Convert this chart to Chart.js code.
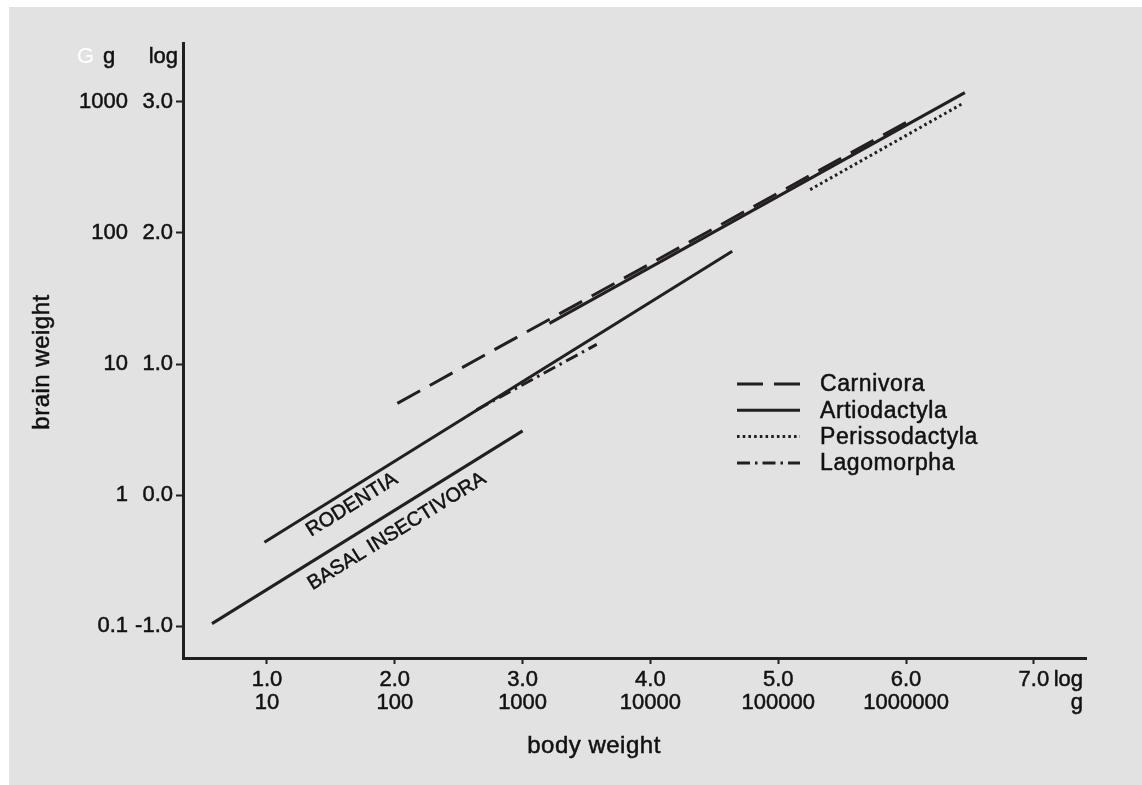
<!DOCTYPE html>
<html>
<head>
<meta charset="utf-8">
<title>Brain weight vs body weight</title>
<script src="https://cdn.jsdelivr.net/npm/chart.js@4.4.0/dist/chart.umd.min.js"></script>
<style>
  html, body { margin: 0; padding: 0; background: #ffffff; }
  #wrap { position: absolute; left: 9px; top: 7px; width: 1133px; height: 778px; background: #e2e2e2; }
  canvas { display: block; }
</style>
</head>
<body>
<div id="wrap"><canvas id="chart" width="1133" height="778"></canvas></div>
<script>
// Axis ticks: log10 values and the matching gram values
const yLogTicks = [-1, 0, 1, 2, 3];
const yGramLabels = ['0.1', '1', '10', '100', '1000'];
const xLogTicks = [1, 2, 3, 4, 5, 6, 7];
const xGramLabels = ['10', '100', '1000', '10000', '100000', '1000000', ''];

// Regression lines: log10 body weight (x) against log10 brain weight (y)
const carnivoraX = [2.02, 6.07];
const carnivoraY = [0.70, 2.88];
const artiodactylaX = [3.21, 6.46];
const artiodactylaY = [1.31, 3.07];
const perissodactylaX = [5.25, 6.45];
const perissodactylaY = [2.33, 2.99];
const lagomorphaX = [2.64, 3.58];
const lagomorphaY = [0.65, 1.15];
const rodentiaX = [0.98, 4.64];
const rodentiaY = [-0.36, 1.86];
const insectivoraX = [0.57, 3.00];
const insectivoraY = [-0.98, 0.49];

const ink = '#231f20';
const textInk = '#111111';
const TEXT_STROKE = 0.5;
const FAMILY = "'Liberation Sans', Arial, Helvetica, sans-serif";

function pts(xs, ys) { return xs.map((x, i) => ({ x: x, y: ys[i] })); }

// filled text with a hairline outline so the glyphs read a little heavier
function heavyText(ctx, str, x, y) {
  ctx.fillText(str, x, y);
  if (ctx.fillStyle !== '#ffffff') {
    ctx.lineWidth = TEXT_STROKE;
    ctx.strokeStyle = ctx.fillStyle;
    ctx.setLineDash([]);
    ctx.strokeText(str, x, y);
  }
}

const lineBase = {
  borderColor: ink, borderWidth: 3, pointRadius: 0, pointHoverRadius: 0,
  fill: false, tension: 0, borderCapStyle: 'butt'
};

// Draws the in-plot labels, the legend and the axis captions
const decorations = {
  id: 'decorations',
  afterDatasetsDraw(chart) {
    const ctx = chart.ctx;
    const xs = chart.scales.x, ys = chart.scales.y;
    const area = chart.chartArea;
    ctx.save();
    ctx.fillStyle = textInk;

    // labels written along the Rodentia / Insectivora lines
    chart.data.datasets.forEach(ds => {
      if (!ds.tag) return;
      const p0 = { x: xs.getPixelForValue(ds.data[0].x), y: ys.getPixelForValue(ds.data[0].y) };
      const p1 = { x: xs.getPixelForValue(ds.data[1].x), y: ys.getPixelForValue(ds.data[1].y) };
      const dx = p1.x - p0.x, dy = p1.y - p0.y;
      const len = Math.hypot(dx, dy);
      const ux = dx / len, uy = dy / len;
      const nx = -uy, ny = ux;
      const cx = p0.x + dx * ds.tag.t + nx * ds.tag.off;
      const cy = p0.y + dy * ds.tag.t + ny * ds.tag.off;
      ctx.save();
      ctx.translate(cx, cy);
      ctx.rotate(Math.atan2(dy, dx));
      ctx.font = '20px ' + FAMILY;
      ctx.textAlign = 'center';
      ctx.textBaseline = 'middle';
      heavyText(ctx, ds.label, 0, 0);
      ctx.restore();
    });

    // legend
    const lx0 = 728, lx1 = 791, tx = 811;
    let ly = 377;
    ctx.save();
    ctx.font = '23px ' + FAMILY;
    ctx.letterSpacing = '0.6px';
    ctx.textAlign = 'left';
    ctx.textBaseline = 'middle';
    chart.data.datasets.forEach(ds => {
      if (!ds.inLegend) return;
      ctx.save();
      ctx.strokeStyle = ink;
      ctx.lineWidth = 3;
      ctx.lineCap = 'butt';
      ctx.setLineDash(ds.borderDash || []);
      ctx.beginPath();
      ctx.moveTo(lx0, ly);
      ctx.lineTo(lx1, ly);
      ctx.stroke();
      ctx.restore();
      heavyText(ctx, ds.label, tx, ly + 1);
      ly += 26.3;
    });
    ctx.restore();

    // column headers above the y axis
    ctx.font = '22px ' + FAMILY;
    ctx.textBaseline = 'alphabetic';
    ctx.fillStyle = '#ffffff';
    ctx.textAlign = 'left';
    heavyText(ctx, 'G', 68, 56);
    ctx.fillStyle = textInk;
    heavyText(ctx, 'g', 94, 56);
    ctx.textAlign = 'right';
    heavyText(ctx, 'log', 169, 56);

    // unit captions at the end of the x axis
    ctx.textAlign = 'right';
    ctx.textBaseline = 'middle';
    ctx.font = '22px ' + FAMILY;
    heavyText(ctx, 'log', area.right - 3, area.bottom + 22);
    heavyText(ctx, 'g', area.right - 3, area.bottom + 45);

    // axis titles
    ctx.save();
    ctx.font = '24px ' + FAMILY;
    ctx.letterSpacing = '0.5px';
    ctx.textAlign = 'center';
    ctx.textBaseline = 'middle';
    heavyText(ctx, 'body weight', 585, 739);
    ctx.translate(33, 355);
    ctx.rotate(-Math.PI / 2);
    heavyText(ctx, 'brain weight', 0, 0);
    ctx.restore();

    ctx.restore();
  }
};

const tickFont = { family: FAMILY, size: 22 };
const xTickFont = { family: FAMILY, size: 22, lineHeight: 1.05 };

new Chart(document.getElementById('chart'), {
  type: 'line',
  data: {
    datasets: [
      { ...lineBase, label: 'Carnivora', data: pts(carnivoraX, carnivoraY), borderDash: [26, 11], inLegend: true },
      { ...lineBase, label: 'Artiodactyla', data: pts(artiodactylaX, artiodactylaY), borderDash: [], inLegend: true },
      { ...lineBase, label: 'Perissodactyla', data: pts(perissodactylaX, perissodactylaY), borderDash: [2.6, 3.1], inLegend: true },
      { ...lineBase, label: 'Lagomorpha', data: pts(lagomorphaX, lagomorphaY), borderDash: [13, 5, 2.5, 5], inLegend: true },
      { ...lineBase, label: 'RODENTIA', data: pts(rodentiaX, rodentiaY), tag: { t: 0.171, off: 14.5 } },
      { ...lineBase, label: 'BASAL INSECTIVORA', data: pts(insectivoraX, insectivoraY), tag: { t: 0.563, off: 19 } }
    ]
  },
  options: {
    responsive: false,
    animation: false,
    devicePixelRatio: 1,
    layout: { padding: { left: 0, top: 36, right: 56, bottom: 0 } },
    plugins: { legend: { display: false }, tooltip: { enabled: false } },
    events: [],
    scales: {
      x: {
        type: 'linear', position: 'bottom', min: 0.343, max: 7.408,
        afterBuildTicks: s => { s.ticks = xLogTicks.map(v => ({ value: v })); },
        afterFit: s => { s.height = 127; },
        border: { display: true, color: ink, width: 3 },
        grid: { drawOnChartArea: false, drawTicks: true, tickLength: 6, tickColor: ink, tickWidth: 2 },
        ticks: {
          color: textInk, font: xTickFont, padding: 4, maxRotation: 0, autoSkip: false,
          textStrokeColor: textInk, textStrokeWidth: TEXT_STROKE,
          callback: (v, i) => [Number(v).toFixed(1), xGramLabels[i]]
        }
      },
      y: {
        type: 'linear', position: 'left', weight: 0, min: -1.242, max: 3.448,
        afterBuildTicks: s => { s.ticks = yLogTicks.map(v => ({ value: v })); },
        afterFit: s => { s.width = 53; },
        border: { display: true, color: ink, width: 3 },
        grid: { drawOnChartArea: false, drawTicks: true, tickLength: 7, tickColor: ink, tickWidth: 2 },
        ticks: {
          color: textInk, font: tickFont, padding: 3,
          textStrokeColor: textInk, textStrokeWidth: TEXT_STROKE,
          callback: v => Number(v).toFixed(1)
        }
      },
      yg: {
        type: 'linear', position: 'left', weight: 1, min: -1.242, max: 3.448,
        afterBuildTicks: s => { s.ticks = yLogTicks.map(v => ({ value: v })); },
        afterFit: s => { s.width = 121; },
        border: { display: false },
        grid: { display: false, drawTicks: false, drawOnChartArea: false },
        ticks: {
          color: textInk, font: tickFont, padding: 2,
          textStrokeColor: textInk, textStrokeWidth: TEXT_STROKE,
          callback: (v, i) => yGramLabels[i]
        }
      }
    }
  },
  plugins: [decorations]
});
</script>
</body>
</html>
